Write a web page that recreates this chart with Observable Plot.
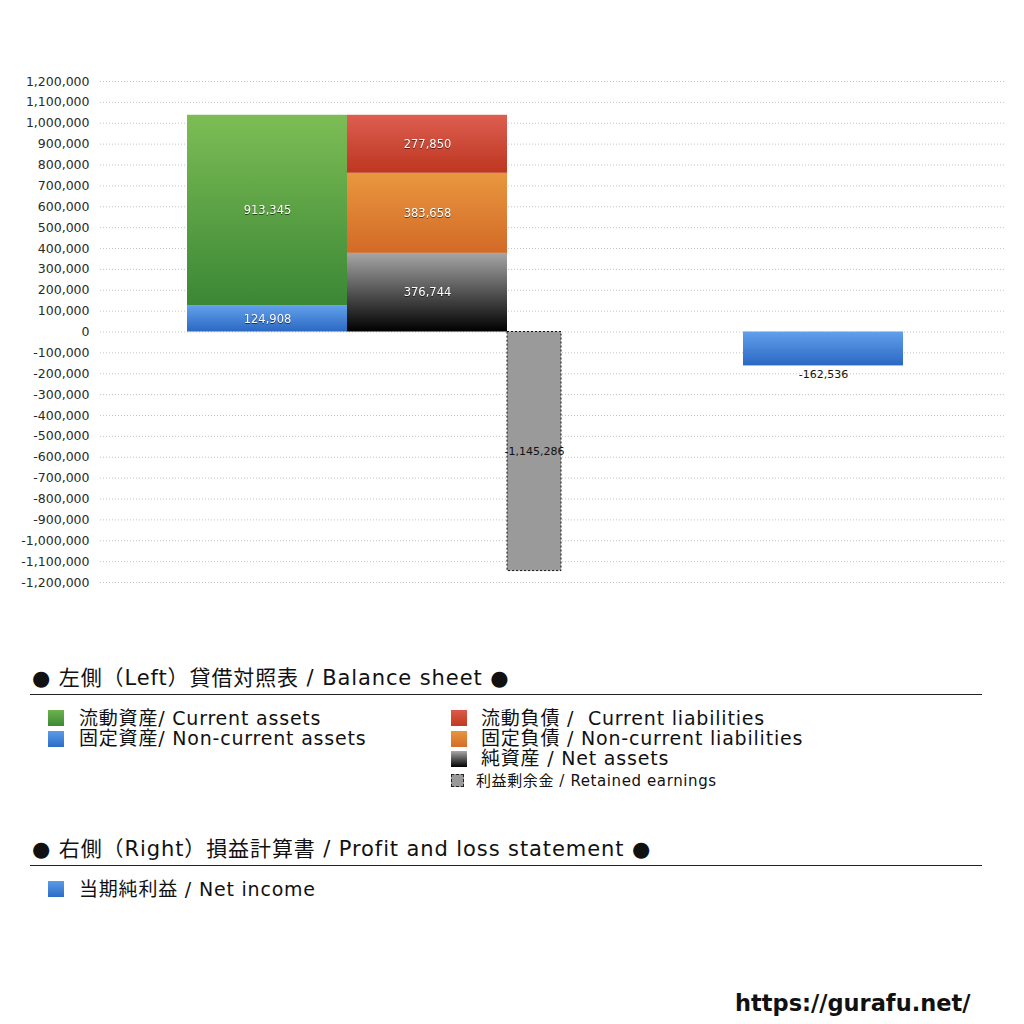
<!DOCTYPE html>
<html>
<head>
<meta charset="utf-8">
<script src="https://cdn.jsdelivr.net/npm/d3@7"></script>
<script src="https://cdn.jsdelivr.net/npm/@observablehq/plot@0.6"></script>
<style>
  html, body { margin: 0; padding: 0; background: #fff; }
  body { width: 1024px; height: 1024px; position: relative; overflow: hidden;
         font-family: "DejaVu Sans", "Noto Sans CJK JP", sans-serif; color: #111; }
  #chart { position: absolute; left: 0; top: 0; }
  .seglabel { filter: drop-shadow(0px 1px 0.6px rgba(0,0,0,0.55)); }
  .leg { position: absolute; white-space: nowrap; line-height: 18px; }
  .hdr { font-size: 21px; line-height: 24px; letter-spacing: 0.9px; }
  .rule { position: absolute; left: 30px; width: 952px; height: 0; border-top: 1px solid #222; }
  .item { font-size: 19px; letter-spacing: 0.8px; }
  .sw { position: absolute; width: 16px; height: 16px; }
  .url { position: absolute; left: 735px; top: 990px; font-family: "DejaVu Sans", sans-serif; font-weight: bold; font-size: 22.5px; }
</style>
</head>
<body>
<div id="chart"></div>

<div class="leg hdr" style="left:32px; top:666px;">● 左側（Left）貸借対照表 / Balance sheet ●</div>
<div class="rule" style="top:694px;"></div>
<div class="sw" style="left:48px; top:710px; background:linear-gradient(#6fb24d,#3c8a35);"></div>
<div class="leg item" style="left:79px; top:709px;">流動資産/ Current assets</div>
<div class="sw" style="left:48px; top:731px; background:linear-gradient(#5b9be8,#2d6cc6);"></div>
<div class="leg item" style="left:79px; top:729px;">固定資産/ Non-current assets</div>
<div class="sw" style="left:451px; top:710px; background:linear-gradient(#dc5a4a,#c03a22);"></div>
<div class="leg item" style="left:481px; top:709px;">流動負債 /&nbsp; Current liabilities</div>
<div class="sw" style="left:451px; top:731px; background:linear-gradient(#e8953e,#d46d28);"></div>
<div class="leg item" style="left:481px; top:729px;">固定負債 / Non-current liabilities</div>
<div class="sw" style="left:451px; top:751px; background:linear-gradient(#a8a8a8,#000);"></div>
<div class="leg item" style="left:481px; top:749px;">純資産 / Net assets</div>
<div class="sw" style="left:451px; top:774px; width:11px; height:11px; background:#999; border:1px dashed #222;"></div>
<div class="leg" style="left:476px; top:772px; font-size:15px; letter-spacing:0.6px;">利益剰余金 / Retained earnings</div>

<div class="leg hdr" style="left:32px; top:837px;">● 右側（Right）損益計算書 / Profit and loss statement ●</div>
<div class="rule" style="top:865px;"></div>
<div class="sw" style="left:48px; top:881px; background:linear-gradient(#5b9be8,#2d6cc6);"></div>
<div class="leg item" style="left:79px; top:880px;">当期純利益 / Net income</div>

<div class="url">https://gurafu.net/</div>

<script>
// ---- data ----
const assetSeries = ["固定資産", "流動資産"];            // bottom → top
const assetValues = [124908, 913345];
const liabSeries = ["純資産", "固定負債", "流動負債"];    // bottom → top
const liabValues = [376744, 383658, 277850];
const retainedEarnings = -1145286;
const netIncome = -162536;
const yTicks = d3.range(-1200000, 1200001, 100000);

// ---- layout (column placement in bar-width units; not data) ----
const colPos = {
  assets:   [0, 1],
  liab:     [1, 2],
  retained: [2, 2 + 54 / 160],
  income:   [3.475, 4.475]
};
const grad = {
  "固定資産": "url(#g-blue)", "流動資産": "url(#g-green)",
  "純資産": "url(#g-black)", "固定負債": "url(#g-orange)", "流動負債": "url(#g-red)"
};

function stackCol(col, names, vals) {
  let acc = 0;
  return names.map((n, i) => {
    const d = {name: n, value: vals[i], x1: colPos[col][0], x2: colPos[col][1], y1: acc, y2: acc + vals[i]};
    acc += vals[i];
    return d;
  });
}
const segs = [...stackCol("assets", assetSeries, assetValues), ...stackCol("liab", liabSeries, liabValues)];
const retained = [{x1: colPos.retained[0], x2: colPos.retained[1], y1: 0, y2: retainedEarnings, value: retainedEarnings}];
const income = [{x1: colPos.income[0], x2: colPos.income[1], y1: 0, y2: netIncome, value: netIncome}];

const fmt = d => d.toLocaleString("en-US");

const defs = () => {
  const ns = "http://www.w3.org/2000/svg";
  const g = document.createElementNS(ns, "defs");
  const list = [
    ["g-green", "#7dbd55", "#3a8735"],
    ["g-blue", "#62a0ec", "#2b68c2"],
    ["g-red", "#dd5e50", "#bd3620"],
    ["g-orange", "#e9973f", "#d26a27"],
    ["g-black", "#a6a6a6", "#000000"]
  ];
  for (const [id, a, b] of list) {
    const lg = document.createElementNS(ns, "linearGradient");
    lg.setAttribute("id", id);
    lg.setAttribute("x1", "0"); lg.setAttribute("y1", "0");
    lg.setAttribute("x2", "0"); lg.setAttribute("y2", "1");
    const s1 = document.createElementNS(ns, "stop"); s1.setAttribute("offset", "0"); s1.setAttribute("stop-color", a);
    const s2 = document.createElementNS(ns, "stop"); s2.setAttribute("offset", "1"); s2.setAttribute("stop-color", b);
    lg.append(s1, s2);
    g.append(lg);
  }
  return g;
};

const plot = Plot.plot({
  width: 1024,
  height: 620,
  marginTop: 81,
  marginBottom: 38,
  marginLeft: 100,
  marginRight: 19,
  style: {fontFamily: "'DejaVu Sans', 'Noto Sans CJK JP', sans-serif", fontSize: "13px", color: "#333", background: "#fff"},
  x: {type: "linear", domain: [-0.54375, 5.1125], axis: null},
  y: {domain: [-1200000, 1200000], axis: null},
  marks: [
    defs,
    Plot.gridY(yTicks, {stroke: "#c4c4c4", strokeOpacity: 1, strokeDasharray: "1,2"}),
    Plot.axisY(yTicks, {tickSize: 0, tickPadding: 11, tickFormat: fmt, fontSize: 12.5, fill: "#2a2a2a"}),
    Plot.rect(segs, {x1: "x1", x2: "x2", y1: "y1", y2: "y2", fill: d => grad[d.name]}),
    Plot.rect(retained, {x1: "x1", x2: "x2", y1: "y1", y2: "y2", fill: "#9a9a9a", stroke: "#111", strokeWidth: 1, strokeDasharray: "2,2"}),
    Plot.rect(income, {x1: "x1", x2: "x2", y1: "y1", y2: "y2", fill: "url(#g-blue)"}),
    Plot.text(segs, {x: d => (d.x1 + d.x2) / 2, y: d => (d.y1 + d.y2) / 2, text: d => fmt(d.value), fill: "white", fontSize: 11.5, className: "seglabel"}),
    Plot.text(retained, {x: d => (d.x1 + d.x2) / 2, y: d => d.y2 / 2, text: d => fmt(d.value), fill: "#111", fontSize: 11}),
    Plot.text(income, {x: d => (d.x1 + d.x2) / 2, y: d => d.y2, text: d => fmt(d.value), fill: "#111", fontSize: 11, dy: 9})
  ]
});
document.getElementById("chart").append(plot);
</script>
</body>
</html>
